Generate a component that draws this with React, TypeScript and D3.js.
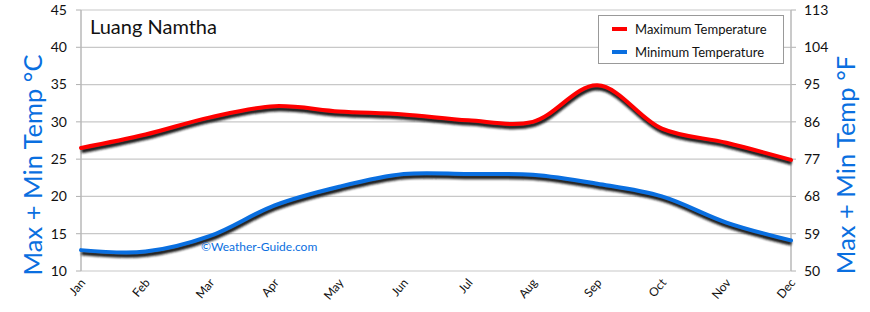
import React from "react";
import * as d3 from "d3";

const months = ["Jan", "Feb", "Mar", "Apr", "May", "Jun", "Jul", "Aug", "Sep", "Oct", "Nov", "Dec"];
const maxTemp = [26.5, 28.3, 30.6, 32.1, 31.4, 31.0, 30.2, 30.0, 34.9, 29.1, 27.2, 24.9];
const minTemp = [12.8, 12.6, 14.7, 18.8, 21.3, 23.0, 23.0, 22.9, 21.7, 20.0, 16.5, 14.1];
const celsiusTicks = [10, 15, 20, 25, 30, 35, 40, 45];
const fahrenheitTicks = ["50", "59", "68", "77", "86", "95", "104", "113"];
const title = "Luang Namtha";
const seriesNames = ["Maximum Temperature", "Minimum Temperature"];

const W = 870;
const H = 312;
const M = { left: 81, right: 79, top: 10, bottom: 41 };
const RED = "#ff0000";
const BLUE = "#0a6fe0";
const FONT = "Lato, 'Open Sans', sans-serif";

export default function App() {
  const x = d3.scalePoint<string>().domain(months).range([M.left, W - M.right]);
  const y = d3.scaleLinear().domain([10, 45]).range([H - M.bottom, M.top]);
  const line = d3
    .line<number>()
    .x((_, i) => x(months[i]) as number)
    .y((d) => y(d))
    .curve(d3.curveCatmullRom.alpha(0.5));

  const series = [
    { name: seriesNames[0], data: maxTemp, color: RED },
    { name: seriesNames[1], data: minTemp, color: BLUE },
  ];
  const x0 = M.left;
  const x1 = W - M.right;

  return (
    <svg
      width={W}
      height={H}
      style={{ position: "absolute", left: 0, top: 0, background: "#fff" }}
      fontFamily={FONT}
    >
      <defs>
        <filter id="shadow" x="-10%" y="-20%" width="120%" height="140%">
          <feGaussianBlur stdDeviation="1" />
        </filter>
      </defs>
      {/* gridlines */}
      {celsiusTicks.map((t) => (
        <g key={t}>
          <line x1={x0} x2={x1} y1={y(t)} y2={y(t)} stroke="#c8c8c8" strokeWidth={1.2} />
          <line x1={x0 - 5} x2={x0} y1={y(t)} y2={y(t)} stroke="#b0b0b0" strokeWidth={1} />
          <line x1={x1} x2={x1 + 5} y1={y(t)} y2={y(t)} stroke="#b0b0b0" strokeWidth={1} />
        </g>
      ))}
      <line x1={x0} x2={x0} y1={M.top} y2={H - M.bottom} stroke="#b8b8b8" strokeWidth={1.5} />
      <line x1={x1} x2={x1} y1={M.top} y2={H - M.bottom} stroke="#b8b8b8" strokeWidth={1.5} />

      {/* left tick labels */}
      {celsiusTicks.map((t) => (
        <text key={"l" + t} x={67} y={y(t)} dy="0.35em" textAnchor="end" fontSize={14} fill="#111">
          {t}
        </text>
      ))}
      {/* right tick labels */}
      {celsiusTicks.map((t, i) => (
        <text key={"r" + t} x={804} y={y(t)} dy="0.35em" textAnchor="start" fontSize={14} fill="#111">
          {fahrenheitTicks[i]}
        </text>
      ))}
      {/* month labels */}
      {months.map((m) => (
        <text
          key={m}
          transform={`translate(${(x(m) as number) + 5},${H - M.bottom + 12}) rotate(-50)`}
          textAnchor="end"
          fontSize={12}
          fill="#111"
        >
          {m}
        </text>
      ))}

      {/* lines */}
      {series.map((s) => (
        <g key={s.name}>
          <path
            d={line(s.data) || ""}
            fill="none"
            stroke="#1a1a1a"
            strokeWidth={4.5}
            transform="translate(0.5,3)"
            filter="url(#shadow)"
          />
          <path d={line(s.data) || ""} fill="none" stroke={s.color} strokeWidth={4} strokeLinecap="round" />
        </g>
      ))}

      {/* title */}
      <text x={90} y={34} fontSize={20} fill="#111">
        {title}
      </text>

      {/* watermark */}
      <text x={201} y={251} fontSize={12} fill={BLUE}>
        ©Weather-Guide.com
      </text>

      {/* legend */}
      <rect x={598.5} y={15.5} width={185} height={48} fill="#fff" stroke="#999" strokeWidth={1} />
      {series.map((s, i) => (
        <g key={"lg" + s.name}>
          <line x1={612} x2={627} y1={29 + i * 23} y2={29 + i * 23} stroke={s.color} strokeWidth={4} />
          <text x={635} y={29 + i * 23} dy="0.35em" fontSize={13} fill="#111">
            {s.name}
          </text>
        </g>
      ))}

      {/* axis titles */}
      <text
        transform={`translate(42,165) rotate(-90)`}
        textAnchor="middle"
        fontSize={25.5}
        fill={BLUE}
      >
        Max + Min Temp °C
      </text>
      <text
        transform={`translate(855,165) rotate(-90)`}
        textAnchor="middle"
        fontSize={25.5}
        fill={BLUE}
      >
        Max + Min Temp °F
      </text>
    </svg>
  );
}
